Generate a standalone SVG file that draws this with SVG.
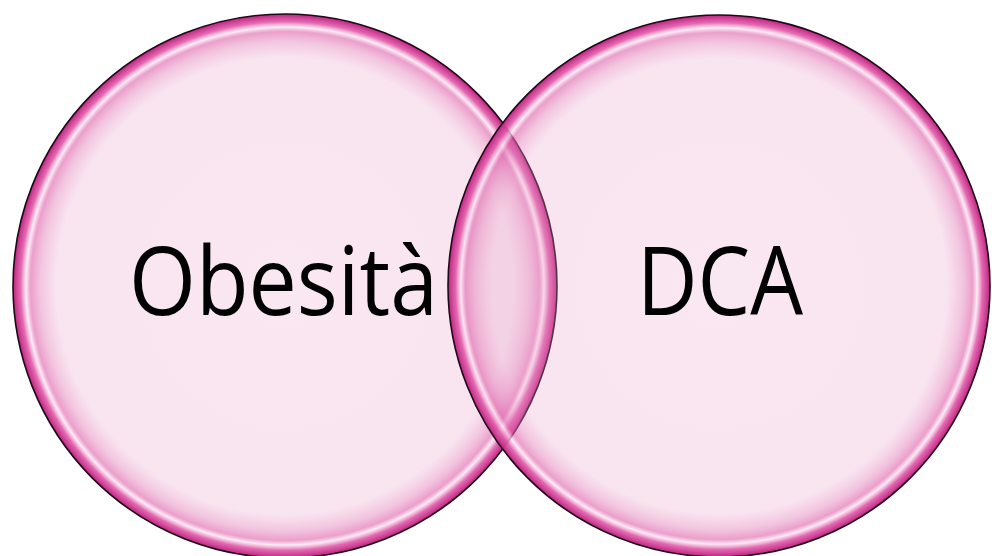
<svg xmlns="http://www.w3.org/2000/svg" width="992" height="556" viewBox="0 0 992 556">
<defs>
<radialGradient id="bubble" cx="50%" cy="50%" r="50%">
<stop offset="0" stop-color="#E8A0C8" stop-opacity="0.25"/>
<stop offset="0.84" stop-color="#E8A0C8" stop-opacity="0.28"/>
<stop offset="0.9" stop-color="#E27CB8" stop-opacity="0.45"/>
<stop offset="0.935" stop-color="#E064AC" stop-opacity="0.62"/>
<stop offset="0.952" stop-color="#FCE4F4" stop-opacity="0.75"/>
<stop offset="0.972" stop-color="#E05AA8" stop-opacity="0.9"/>
<stop offset="1" stop-color="#BE2282" stop-opacity="1"/>
</radialGradient>
</defs>
<style>
.circ{fill:url(#bubble);stroke:#1e0a16;stroke-width:1.6}
.lbl{font-family:"Open Sans","DejaVu Sans",sans-serif;font-size:96px;fill:#000}
</style>
<rect width="992" height="556" fill="#ffffff"/>
<g id="node-obesita">
<circle class="circ" cx="285" cy="286" r="272"/>
</g>
<g id="node-dca">
<circle class="circ" cx="719" cy="286" r="271"/>
</g>
<g id="labels">
<text class="lbl" x="129" y="315" textLength="309" lengthAdjust="spacingAndGlyphs">Obesità</text>
<text class="lbl" x="637" y="315" textLength="166" lengthAdjust="spacingAndGlyphs">DCA</text>
</g>
<g id="connectors"/>
</svg>
